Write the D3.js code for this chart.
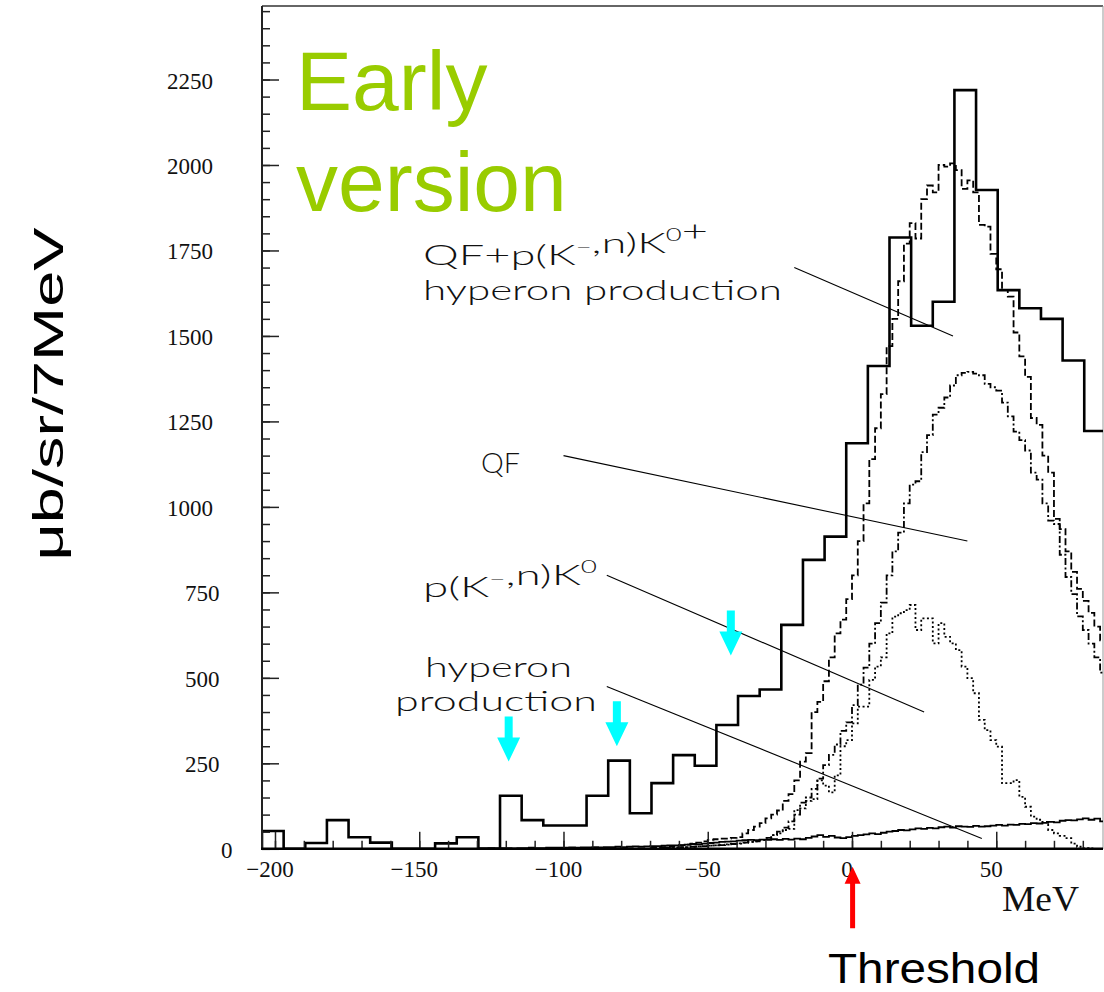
<!DOCTYPE html>
<html><head><meta charset="utf-8">
<script src="https://cdn.jsdelivr.net/npm/d3@7"></script>
<style>html,body{margin:0;padding:0;background:#fff;} svg{display:block;}</style>
</head><body>
<svg id="chart" width="1104" height="992"></svg>
<script>
// Missing-mass spectrum: measured histogram (7.5 MeV bins) with simulated components (2 MeV bins)
const binStart = -204.5, binWidth = 7.5;
const spectrum = [52, 0, 17, 84, 34, 18, 0, 0, 16, 34, 0, 155, 84, 68, 68, 155, 258, 104, 192, 274,
  243, 362, 447, 466, 655, 845, 913, 1186, 1412, 1788, 1530, 1600, 2219, 1927, 1634, 1581, 1550, 1428, 1222];

const fineStart = -70, fineWidth = 2;
// QF + p(K-,n)K0 + hyperon production
const totalSim = [3, 4, 5, 6, 8, 10, 12, 15, 18, 22, 26, 28, 30, 30, 32, 34, 45, 55, 65, 75,
  89, 100, 112, 140, 160, 200, 255, 280, 400, 430, 490, 560, 630, 670, 730, 800, 900, 1010, 1140, 1230,
  1330, 1470, 1550, 1660, 1770, 1830, 1785, 1900, 1940, 1920, 2000, 1995, 2005, 1985, 1930, 1955, 1920, 1825, 1820, 1740,
  1695, 1635, 1615, 1510, 1440, 1380, 1260, 1240, 1150, 1100, 965, 935, 870, 810, 760, 725, 690, 650, 610];
// QF
const qfSim = [2, 2, 3, 3, 4, 5, 5, 6, 7, 8, 9, 10, 11, 13, 14, 16, 18, 20, 22, 26,
  32, 40, 50, 62, 80, 100, 135, 150, 175, 205, 245, 275, 305, 345, 370, 420, 480, 530, 600, 660,
  720, 800, 870, 925, 1010, 1065, 1075, 1160, 1210, 1270, 1290, 1320, 1355, 1385, 1392, 1395, 1390, 1385, 1360, 1350,
  1340, 1305, 1265, 1220, 1195, 1165, 1100, 1080, 1010, 960, 950, 860, 795, 745, 680, 640, 600, 560, 515];
// p(K-,n)K0
const k0Sim = [2, 2, 3, 3, 4, 4, 5, 6, 7, 8, 9, 10, 11, 12, 14, 15, 18, 20, 22, 26,
  32, 40, 45, 55, 58, 113, 118, 140, 145, 200, 185, 165, 215, 300, 318, 367, 416, 416, 494, 533,
  560, 630, 679, 689, 698, 713, 640, 674, 674, 601, 660, 620, 601, 581, 533, 499, 455, 377, 347, 318,
  299, 192, 192, 201, 152, 123, 94, 85, 79, 55, 45, 38, 31, 15, 6, 2, 1, 0, 0];
// hyperon production
const hypStart = -130;
const hyperonSim = [1, 1, 2, 1, 2, 2, 1, 2, 2, 3, 2, 2, 3, 3, 3,
  3, 4, 3, 4, 4, 5, 4, 5, 5, 6, 5, 6, 7, 6, 7,
  8, 8, 9, 10, 10, 11, 12, 14, 13, 15, 17, 18, 20, 21, 22,
  24, 25, 26, 25, 27, 26, 28, 26, 29, 27, 30, 28, 32, 36, 40,
  35, 38, 33, 31, 34, 38, 40, 42, 45, 43, 47, 50, 52, 55, 54,
  57, 60, 58, 61, 60, 63, 65, 62, 66, 65, 64, 67, 65, 66, 68,
  70, 68, 71, 70, 73, 72, 75, 74, 76, 79, 77, 82, 84, 83, 86, 89, 85, 88, 80];

const yTicks = [0, 250, 500, 750, 1000, 1250, 1500, 1750, 2000, 2250];
const yTickLabels = ["0", "250", "500", "750", "1000", "1250", "1500", "1750", "2000", "2250"];
const xTicks = [-200, -150, -100, -50, 0, 50];
const xTickLabels = ["\u2212200", "\u2212150", "\u2212100", "\u221250", "0", "50"];

// peak markers (MeV, level of arrow tip)
const markerX = [-119, -81.5, -42];
const markerY = [255, 300, 565];
const thresholdX = 0;

// pointer lines from labels to curves, in (MeV, value)
const pointers = [
  [[-20, 1700], [35, 1500]],
  [[-100, 1150], [40, 900]],
  [[-85, 800], [25, 400]],
  [[-85, 475], [45, 30]]
];

const svg = d3.select("#chart");
const x = d3.scaleLinear().domain([-204.5, 87]).range([262, 1103]);
const y = d3.scaleLinear().domain([0, 2465]).range([848.8, 6]);

svg.append("defs").append("clipPath").attr("id", "plot")
  .append("rect").attr("x", 262).attr("y", 6).attr("width", 841).attr("height", 842.8);

function stepPath(start, width, vals, closed) {
  const pts = [];
  if (closed) pts.push([start, 0]);
  vals.forEach((v, i) => { pts.push([start + i * width, v]); pts.push([start + (i + 1) * width, v]); });
  if (closed) pts.push([start + vals.length * width, 0]);
  return d3.line().x(d => x(d[0])).y(d => y(d[1]))(pts);
}

// frame
svg.append("line").attr("x1", 262).attr("x2", 1103).attr("y1", 6).attr("y2", 6)
  .attr("stroke", "#333").attr("stroke-width", 1.5);
svg.append("line").attr("x1", 1103).attr("x2", 1103).attr("y1", 6).attr("y2", 849)
  .attr("stroke", "#999").attr("stroke-width", 1);

const plot = svg.append("g").attr("clip-path", "url(#plot)");

plot.append("path").attr("d", stepPath(hypStart, fineWidth, hyperonSim, false))
  .attr("fill", "none").attr("stroke", "#000").attr("stroke-width", 1.8);
plot.append("path").attr("d", stepPath(fineStart, fineWidth, k0Sim, false))
  .attr("fill", "none").attr("stroke", "#000").attr("stroke-width", 1.8).attr("stroke-dasharray", "2,2.5");
plot.append("path").attr("d", stepPath(fineStart, fineWidth, qfSim, false))
  .attr("fill", "none").attr("stroke", "#000").attr("stroke-width", 1.8).attr("stroke-dasharray", "7,2.5,2,2.5");
plot.append("path").attr("d", stepPath(fineStart, fineWidth, totalSim, false))
  .attr("fill", "none").attr("stroke", "#000").attr("stroke-width", 1.8).attr("stroke-dasharray", "7,3");
plot.append("path").attr("d", stepPath(binStart, binWidth, spectrum, true))
  .attr("fill", "none").attr("stroke", "#000").attr("stroke-width", 2.6).attr("stroke-linejoin", "miter");

// axes with inward ticks
function styleAxis(g) {
  g.select(".domain").remove();
  g.selectAll(".tick line").attr("stroke", "#222").attr("stroke-width", 1.5);
}
svg.append("g").attr("transform", "translate(262,0)")
  .call(d3.axisRight(y).tickValues(d3.range(0, 2466, 50)).tickSize(8).tickFormat("")).call(styleAxis);
svg.append("g").attr("transform", "translate(262,0)")
  .call(d3.axisRight(y).tickValues(yTicks).tickSize(17).tickFormat("")).call(styleAxis);
svg.append("g").attr("transform", "translate(0,848.8)")
  .call(d3.axisTop(x).tickValues(d3.range(-200, 87, 10)).tickSize(8).tickFormat("")).call(styleAxis);
svg.append("g").attr("transform", "translate(0,848.8)")
  .call(d3.axisTop(x).tickValues(xTicks).tickSize(17).tickFormat("")).call(styleAxis);

svg.append("line").attr("x1", 262).attr("x2", 262).attr("y1", 6).attr("y2", 850)
  .attr("stroke", "#222").attr("stroke-width", 2);
svg.append("line").attr("x1", 261).attr("x2", 1103).attr("y1", 848.8).attr("y2", 848.8)
  .attr("stroke", "#000").attr("stroke-width", 2.6);

// tick labels
const serif = "'Liberation Serif', 'Times New Roman', serif";
svg.append("g").selectAll("text").data(yTicks).join("text")
  .attr("x", (d, i) => 213 + (4 - yTickLabels[i].length) * 6.5)
  .attr("y", d => y(d) + 1.5)
  .attr("text-anchor", "end").attr("dominant-baseline", "central")
  .attr("font-family", serif).attr("font-size", 23).attr("fill", "#111")
  .text((d, i) => yTickLabels[i]);
svg.append("g").selectAll("text").data(xTicks).join("text")
  .attr("x", d => x(d) - 5).attr("y", 877)
  .attr("text-anchor", "middle")
  .attr("font-family", serif).attr("font-size", 23).attr("fill", "#111")
  .text((d, i) => xTickLabels[i]);
svg.append("text").attr("x", 1002).attr("y", 911)
  .attr("font-family", serif).attr("font-size", 36).attr("textLength", 77).attr("lengthAdjust", "spacingAndGlyphs")
  .attr("fill", "#111").text("MeV");

// y title
svg.append("text").attr("transform", "translate(63,394) rotate(-90)")
  .attr("text-anchor", "middle").attr("font-family", "'Liberation Sans', Arial, sans-serif")
  .attr("font-size", 42).attr("textLength", 333).attr("lengthAdjust", "spacingAndGlyphs")
  .attr("fill", "#000").text("\u03bcb/sr/7MeV");

// headline (two lines in one text block)
const sans = "'Liberation Sans', Arial, sans-serif";
const head = svg.append("text").attr("font-family", sans).attr("font-size", 84).attr("fill", "#99cc00");
head.append("tspan").attr("x", 296).attr("y", 110).text("Early");
head.append("tspan").attr("x", 296).attr("y", 211).text("version");

// component labels; each label is one text block, one tspan line per row
const thin = "Lato, 'Open Sans', sans-serif";
function label(rows) {
  const t = svg.append("text")
    .attr("font-family", thin).attr("font-weight", 300).attr("font-size", 28).attr("fill", "#111");
  rows.forEach(r => {
    const line = t.append("tspan").attr("x", r.x).attr("y", r.y)
      .attr("textLength", r.len).attr("lengthAdjust", "spacingAndGlyphs");
    r.parts.forEach(p => {
      if (typeof p === "string") line.append("tspan").text(p);
      else {
        line.append("tspan").attr("dy", -12).attr("font-size", 17).text(p.sup);
        line.append("tspan").attr("dy", 12).text("");
      }
    });
  });
  return t;
}
label([{x: 423, y: 265, len: 285, parts: ["QF+p(K", {sup: "\u2212"}, ",n)K", {sup: "0"}, "+"]},
       {x: 423, y: 300, len: 359, parts: ["hyperon production"]}]);
label([{x: 481, y: 473, len: 39, parts: ["QF"]}]);
label([{x: 423, y: 597, len: 174, parts: ["p(K", {sup: "\u2212"}, ",n)K", {sup: "0"}]}]);
label([{x: 425, y: 677, len: 147, parts: ["hyperon"]},
       {x: 395, y: 711, len: 202, parts: ["production"]}]);

// pointer lines
svg.append("g").selectAll("line").data(pointers).join("line")
  .attr("x1", d => x(d[0][0])).attr("y1", d => y(d[0][1]))
  .attr("x2", d => x(d[1][0])).attr("y2", d => y(d[1][1]))
  .attr("stroke", "#000").attr("stroke-width", 1.1);

// cyan peak markers (downward arrows)
function arrowDown(cx, tipY, len, shaftW, headW, headH) {
  const top = tipY - len, hb = tipY - headH;
  return `M${cx - shaftW / 2},${top}L${cx + shaftW / 2},${top}L${cx + shaftW / 2},${hb}L${cx + headW / 2},${hb}` +
    `L${cx},${tipY}L${cx - headW / 2},${hb}L${cx - shaftW / 2},${hb}Z`;
}
svg.append("g").selectAll("path").data(markerX).join("path")
  .attr("d", (d, i) => arrowDown(x(d), y(markerY[i]), 45, 8, 23, 24))
  .attr("fill", "#00ffff");

// threshold arrow
const tx = x(thresholdX) + 0.6, tipY = 866.7, baseY = 928.3;
svg.append("path")
  .attr("d", `M${tx - 2.5},${baseY}L${tx + 2.5},${baseY}L${tx + 2.5},${tipY + 17}L${tx + 8},${tipY + 17}L${tx},${tipY}` +
    `L${tx - 8},${tipY + 17}L${tx - 2.5},${tipY + 17}Z`)
  .attr("fill", "#ff0000");
svg.append("text").attr("x", 828).attr("y", 983).attr("font-family", sans).attr("font-size", 42)
  .attr("textLength", 212).attr("lengthAdjust", "spacingAndGlyphs").attr("fill", "#000").text("Threshold");
</script>
</body></html>
